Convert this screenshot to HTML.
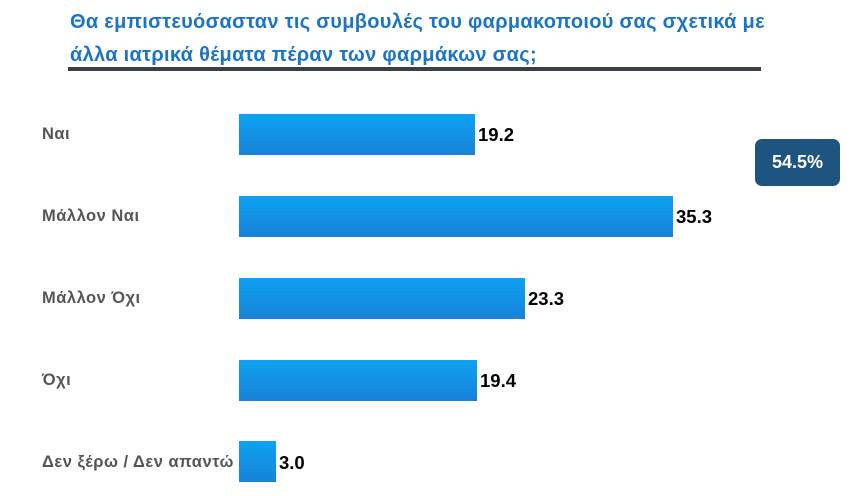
<!DOCTYPE html>
<html><head><meta charset="utf-8"><style>
body{margin:0;width:856px;height:496px;background:#fff;position:relative;overflow:hidden;font-family:"Liberation Sans",sans-serif}
.t{position:absolute;left:70px;color:#1b74c6;font-weight:bold;font-size:20px;letter-spacing:0.3px;white-space:nowrap}
.rule{position:absolute;left:68px;top:67px;width:693px;height:4px;background:#3b4046}
.bar{position:absolute;left:239px;height:41px;background:linear-gradient(#0ea2f2,#1782d8)}
.lab{position:absolute;left:42px;color:#555;font-weight:bold;font-size:16.5px;letter-spacing:0.5px;white-space:nowrap}
.val{position:absolute;color:#000;font-weight:bold;font-size:18.5px}
.box{position:absolute;left:755px;top:139px;width:85px;height:47px;background:#1d5480;border-radius:7px;color:#fff;font-weight:bold;font-size:18px;text-align:center;line-height:47px}
</style></head><body>
<div class="t" style="top:11px">Θα εμπιστευόσασταν τις συμβουλές του φαρμακοποιού σας σχετικά με</div>
<div class="t" style="top:44px">άλλα ιατρικά θέματα πέραν των φαρμάκων σας;</div>
<div class="rule"></div>
<div class="lab" style="top:125px">Ναι</div>
<div class="bar" style="top:114px;width:236px"></div><div class="val" style="left:478px;top:124px">19.2</div>
<div class="lab" style="top:207px">Μάλλον Ναι</div>
<div class="bar" style="top:196px;width:434px"></div><div class="val" style="left:676px;top:206px">35.3</div>
<div class="lab" style="top:289px">Μάλλον Όχι</div>
<div class="bar" style="top:278px;width:286px"></div><div class="val" style="left:528px;top:288px">23.3</div>
<div class="lab" style="top:371px">Όχι</div>
<div class="bar" style="top:360px;width:238px"></div><div class="val" style="left:480px;top:370px">19.4</div>
<div class="lab" style="top:453px">Δεν ξέρω / Δεν απαντώ</div>
<div class="bar" style="top:441px;width:37px"></div><div class="val" style="left:279px;top:452px">3.0</div>
<div class="box">54.5%</div>
</body></html>
